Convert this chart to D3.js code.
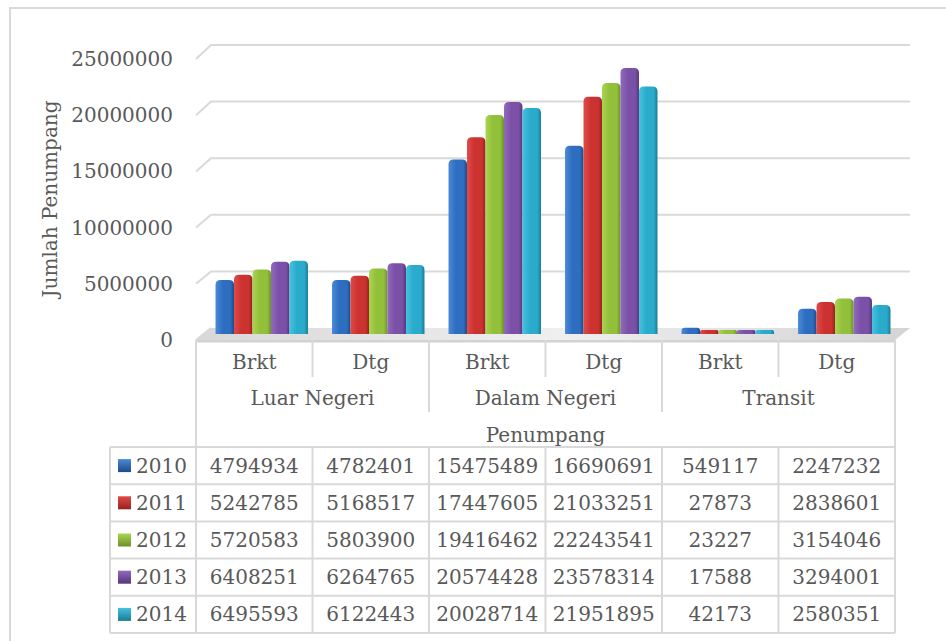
<!DOCTYPE html>
<html>
<head>
<meta charset="utf-8">
<script src="https://cdn.jsdelivr.net/npm/d3@7"></script>
<style>
  body { margin: 0; background: #fff; }
  svg { display: block; }
  text { font-family: "DejaVu Serif", serif; font-size: 20px; fill: #595959; }
</style>
</head>
<body>
<script>
// data
let years = ["2010", "2011", "2012", "2013", "2014"]
let subCats = ["Brkt", "Dtg", "Brkt", "Dtg", "Brkt", "Dtg"]
let groups = ["Luar Negeri", "Dalam Negeri", "Transit"]
let v2010 = [4794934, 4782401, 15475489, 16690691, 549117, 2247232]
let v2011 = [5242785, 5168517, 17447605, 21033251, 27873, 2838601]
let v2012 = [5720583, 5803900, 19416462, 22243541, 23227, 3154046]
let v2013 = [6408251, 6264765, 20574428, 23578314, 17588, 3294001]
let v2014 = [6495593, 6122443, 20028714, 21951895, 42173, 2580351]
let yTicks = [0, 5000000, 10000000, 15000000, 20000000, 25000000]
let series = [v2010, v2011, v2012, v2013, v2014]

let colors = [
    {base: "#2e6ec0", light: "#4c8ad6", dark: "#1c4b88"},
    {base: "#cc3330", light: "#e04a46", dark: "#962220"},
    {base: "#92c03a", light: "#aad452", dark: "#6b9126"},
    {base: "#7a51a6", light: "#9169bd", dark: "#55377a"},
    {base: "#2aabcb", light: "#45c3e0", dark: "#1a7c95"}
]

let w = 946, h = 641
let grid = "#d9d9d9"
let svg = d3.select("body").append("svg").attr("width", w).attr("height", h)
let defs = svg.append("defs")

colors.forEach((c, i) => {
    let g = defs.append("linearGradient").attr("id", "bar" + i)
        .attr("x1", "0%").attr("x2", "100%").attr("y1", "0%").attr("y2", "0%")
    g.append("stop").attr("offset", "0%").attr("stop-color", c.light)
    g.append("stop").attr("offset", "40%").attr("stop-color", c.base)
    g.append("stop").attr("offset", "80%").attr("stop-color", c.base)
    g.append("stop").attr("offset", "100%").attr("stop-color", c.dark)
    let m = defs.append("linearGradient").attr("id", "mk" + i)
        .attr("x1", "0%").attr("x2", "0%").attr("y1", "0%").attr("y2", "100%")
    m.append("stop").attr("offset", "0%").attr("stop-color", c.light)
    m.append("stop").attr("offset", "100%").attr("stop-color", c.dark)
})
let fg = defs.append("linearGradient").attr("id", "floor")
    .attr("x1", "0%").attr("x2", "100%").attr("y1", "0%").attr("y2", "0%")
fg.append("stop").attr("offset", "0%").attr("stop-color", "#d8d8d8")
fg.append("stop").attr("offset", "50%").attr("stop-color", "#efefef")
fg.append("stop").attr("offset", "100%").attr("stop-color", "#d4d4d4")

// outer frame (cut off at right and bottom)
svg.append("path")
    .attr("d", `M10,${h} L10,8 L${w},8`)
    .attr("fill", "none").attr("stroke", "#d9d9d9").attr("stroke-width", 2)

let left = 196, right = 895
let x = d3.scaleBand().domain(d3.range(subCats.length)).range([left, right])
let xIn = d3.scaleBand().domain(d3.range(years.length))
    .range([0, x.bandwidth()]).paddingOuter(0.65).paddingInner(0)
let yFront = d3.scaleLinear().domain([0, 25000000]).range([340, 59])
let yBack = d3.scaleLinear().domain([0, 25000000]).range([328, 45])
let yMid = d3.scaleLinear().domain([0, 25000000]).range([334, 52])
let depth = 15, mid = 7.5

// floor
svg.append("path")
    .attr("d", `M${left},${yFront(0)} L${right},${yFront(0)} L${right + depth},${yBack(0)} L${left + depth},${yBack(0)} Z`)
    .attr("fill", "url(#floor)")
svg.append("rect")
    .attr("x", left).attr("y", yFront(0)).attr("width", right - left).attr("height", 2.5)
    .attr("fill", "#d2d2d2")

// gridlines on back wall with the side-wall diagonal
yTicks.slice(1).forEach(t => {
    svg.append("path")
        .attr("d", `M${left},${yFront(t)} L${left + depth},${yBack(t)} L${right + depth},${yBack(t)}`)
        .attr("fill", "none").attr("stroke", grid).attr("stroke-width", 2)
})
svg.append("path")
    .attr("d", `M${left},${yFront(0)} L${left + depth},${yBack(0)}`)
    .attr("fill", "none").attr("stroke", grid).attr("stroke-width", 2)

// y tick labels
svg.selectAll(".ytick").data(yTicks).enter().append("text")
    .attr("class", "ytick")
    .attr("x", 173).attr("y", d => yFront(d))
    .attr("text-anchor", "end").attr("dominant-baseline", "central")
    .text(d => d)

svg.append("text")
    .attr("transform", "translate(50,199) rotate(-90)")
    .attr("text-anchor", "middle").attr("dominant-baseline", "central")
    .text("Jumlah Penumpang")

// bars
function barPath(x0, bw, v) {
    let y0 = yMid(0)
    let top = Math.min(yMid(v), y0 - 4)
    let r = Math.min(5, (y0 - top) / 2, bw / 2)
    return `M${x0},${y0} L${x0},${top + r} Q${x0},${top} ${x0 + r},${top} L${x0 + bw - r},${top} Q${x0 + bw},${top} ${x0 + bw},${top + r} L${x0 + bw},${y0} Z`
}
series.forEach((vals, si) => {
    svg.append("g").selectAll("path").data(vals).enter().append("path")
        .attr("d", (d, ci) => barPath(x(ci) + mid + xIn(si), xIn.bandwidth(), d))
        .attr("fill", "url(#bar" + si + ")")
})

// data table
let rowTop = 447, rowH = 37.2, legLeft = 110
let line = (x1, y1, x2, y2) => svg.append("line")
    .attr("x1", x1).attr("y1", y1).attr("x2", x2).attr("y2", y2)
    .attr("stroke", grid).attr("stroke-width", 2)

line(left, 340, left, rowTop)
line(right, 340, right, rowTop)
d3.range(1, subCats.length).forEach(i => {
    line(x(i), 340, x(i), i % 2 == 0 ? 412 : 377)
})
d3.range(years.length + 1).forEach(i => line(legLeft, rowTop + i * rowH, right, rowTop + i * rowH))
line(legLeft, rowTop, legLeft, rowTop + years.length * rowH)
d3.range(subCats.length + 1).forEach(i => {
    let xx = i == subCats.length ? right : x(i)
    line(xx, rowTop, xx, rowTop + years.length * rowH)
})

svg.selectAll(".sub").data(subCats).enter().append("text")
    .attr("x", (d, i) => x(i) + x.bandwidth() / 2).attr("y", 362)
    .attr("text-anchor", "middle").attr("dominant-baseline", "central")
    .text(d => d)
svg.selectAll(".grp").data(groups).enter().append("text")
    .attr("x", (d, i) => x(i * 2) + x.bandwidth()).attr("y", 398)
    .attr("text-anchor", "middle").attr("dominant-baseline", "central")
    .text(d => d)
svg.append("text")
    .attr("x", (left + right) / 2).attr("y", 435)
    .attr("text-anchor", "middle").attr("dominant-baseline", "central")
    .text("Penumpang")

series.forEach((vals, si) => {
    let cy = rowTop + si * rowH + rowH / 2
    svg.append("rect")
        .attr("x", 118).attr("y", cy - 6.5).attr("width", 13).attr("height", 13)
        .attr("fill", "url(#mk" + si + ")")
    svg.append("text")
        .attr("x", 136).attr("y", cy).attr("dominant-baseline", "central")
        .text(years[si])
    svg.append("g").selectAll("text").data(vals).enter().append("text")
        .attr("x", (d, i) => x(i) + x.bandwidth() / 2).attr("y", cy)
        .attr("text-anchor", "middle").attr("dominant-baseline", "central")
        .text(d => d)
})
</script>
</body>
</html>
